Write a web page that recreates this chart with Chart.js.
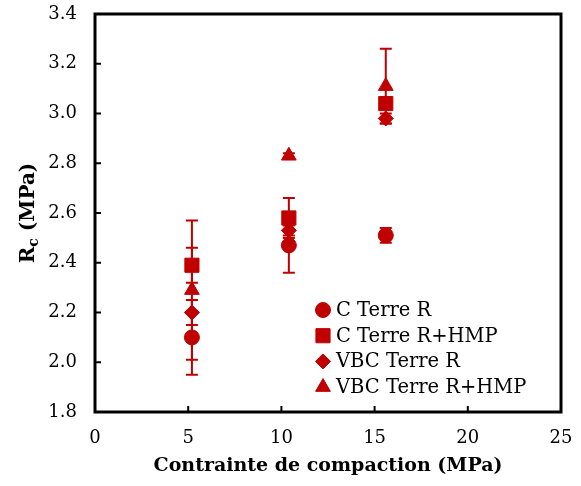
<!DOCTYPE html>
<html>
<head>
<meta charset="utf-8">
<script src="https://cdn.jsdelivr.net/npm/chart.js@4.4.1/dist/chart.umd.min.js"></script>
<style>
  body { margin: 0; background: #fff; }
  #wrap { width: 581px; height: 486px; }
</style>
</head>
<body>
<div id="wrap"><canvas id="rcChart" width="581" height="486"></canvas></div>
<script>
// Compaction pressure (MPa)
const pressures = [5.2, 10.4, 15.6];

// Rc values (MPa) per series
const cTerreR = [2.10, 2.47, 2.51];
const cTerreRHmp = [2.39, 2.58, 3.04];
const vbcTerreR = [2.20, 2.53, 2.98];
const vbcTerreRHmp = [2.29, 2.83, 3.11];

// error bars (+/-)
const cTerreRErr = [0.15, 0.11, 0.03];
const cTerreRHmpErr = [0.07, 0.08, 0.02];
const vbcTerreRErr = [0.05, 0.02, 0.02];
const vbcTerreRHmpErr = [0.28, 0.01, 0.15];

const seriesNames = ['C Terre R', 'C Terre R+HMP', 'VBC Terre R', 'VBC Terre R+HMP'];
const xTicks = [0, 5, 10, 15, 20, 25];
const yTicks = [1.8, 2.0, 2.2, 2.4, 2.6, 2.8, 3.0, 3.2, 3.4];

const RED = '#C00000';
const SERIF = "'DejaVu Serif', serif";

function toPoints(vals, errs) {
    return pressures.map((p, i) => ({ x: p, y: vals[i], err: errs[i] }));
}

const datasets = [
    { label: seriesNames[0], data: toPoints(cTerreR, cTerreRErr), pointStyle: 'circle', pointRadius: 7.5 },
    { label: seriesNames[1], data: toPoints(cTerreRHmp, cTerreRHmpErr), pointStyle: 'rect', pointRadius: 10 },
    { label: seriesNames[2], data: toPoints(vbcTerreR, vbcTerreRErr), pointStyle: 'rectRot', pointRadius: 7.5 },
    { label: seriesNames[3], data: toPoints(vbcTerreRHmp, vbcTerreRHmpErr), pointStyle: 'triangle', pointRadius: 8.5 }
].map(ds => Object.assign(ds, {
    backgroundColor: RED,
    borderColor: RED,
    borderWidth: 1,
    pointHoverRadius: ds.pointRadius
}));

// white background
const bgPlugin = {
    id: 'bg',
    beforeDraw(chart) {
        const ctx = chart.ctx;
        ctx.save();
        ctx.fillStyle = '#fff';
        ctx.fillRect(0, 0, chart.width, chart.height);
        ctx.restore();
    }
};

// error bars behind the markers
const errorBars = {
    id: 'errorBars',
    beforeDatasetsDraw(chart) {
        const ctx = chart.ctx;
        const xs = chart.scales.x, ys = chart.scales.y;
        ctx.save();
        ctx.strokeStyle = RED;
        ctx.lineWidth = 2;
        chart.data.datasets.forEach(ds => {
            ds.data.forEach(pt => {
                const px = xs.getPixelForValue(pt.x);
                const top = ys.getPixelForValue(pt.y + pt.err);
                const bot = ys.getPixelForValue(pt.y - pt.err);
                ctx.beginPath();
                ctx.moveTo(px, top); ctx.lineTo(px, bot);
                ctx.moveTo(px - 6, top); ctx.lineTo(px + 6, top);
                ctx.moveTo(px - 6, bot); ctx.lineTo(px + 6, bot);
                ctx.stroke();
            });
        });
        ctx.restore();
    }
};

// frame, inward ticks, y title with subscript, legend
const decorations = {
    id: 'decorations',
    afterDraw(chart) {
        const ctx = chart.ctx;
        const a = chart.chartArea;
        const xs = chart.scales.x, ys = chart.scales.y;
        ctx.save();
        ctx.strokeStyle = '#000';
        ctx.lineWidth = 2;
        ctx.beginPath();
        xs.ticks.forEach(t => {
            if (t.value <= xs.min || t.value >= xs.max) return;
            const px = xs.getPixelForValue(t.value);
            ctx.moveTo(px, a.bottom); ctx.lineTo(px, a.bottom - 6);
        });
        ys.ticks.forEach(t => {
            if (t.value <= ys.min || t.value >= ys.max) return;
            const py = ys.getPixelForValue(t.value);
            ctx.moveTo(a.left, py); ctx.lineTo(a.left + 6, py);
        });
        ctx.stroke();
        ctx.lineWidth = 3;
        ctx.strokeRect(a.left, a.top, a.right - a.left, a.bottom - a.top);

        // y title: R_c (MPa)
        ctx.fillStyle = '#000';
        ctx.translate(27, (a.top + a.bottom) / 2);
        ctx.rotate(-Math.PI / 2);
        const big = 'bold 20px ' + SERIF, small = 'bold 14px ' + SERIF;
        ctx.font = big; const wR = ctx.measureText('R').width;
        const wRest = ctx.measureText(' (MPa)').width;
        ctx.font = small; const wc = ctx.measureText('c').width;
        let x0 = -(wR + wc + wRest) / 2;
        ctx.textBaseline = 'alphabetic';
        ctx.textAlign = 'left';
        ctx.font = big; ctx.fillText('R', x0, 7);
        ctx.font = small; ctx.fillText('c', x0 + wR, 11);
        ctx.font = big; ctx.fillText(' (MPa)', x0 + wR + wc, 7);
        ctx.setTransform(1, 0, 0, 1, 0, 0);

        // legend
        ctx.font = '19.5px ' + SERIF;
        ctx.textBaseline = 'middle';
        chart.data.datasets.forEach((ds, i) => {
            const ly = 310 + i * 25.7;
            ctx.fillStyle = RED;
            ctx.strokeStyle = RED;
            ctx.lineWidth = 1;
            Chart.helpers.drawPoint(ctx, { pointStyle: ds.pointStyle, radius: ds.pointRadius, rotation: 0, borderWidth: 1 }, 323, ly);
            ctx.fillStyle = '#000';
            ctx.fillText(ds.label, 336, ly + 1);
        });
        ctx.restore();
    }
};

new Chart(document.getElementById('rcChart'), {
    type: 'scatter',
    data: { datasets: datasets },
    options: {
        responsive: false,
        animation: false,
        devicePixelRatio: 1,
        layout: { padding: { left: 0, right: 20, top: 14, bottom: 0 } },
        plugins: {
            legend: { display: false },
            tooltip: { enabled: false }
        },
        scales: {
            x: {
                type: 'linear',
                min: 0, max: 25,
                afterBuildTicks: s => { s.ticks = xTicks.map(v => ({ value: v })); },
                afterFit: s => { s.height = 74; s.paddingLeft = 0; s.paddingRight = 0; },
                grid: { display: false, drawTicks: false },
                border: { display: false },
                ticks: {
                    padding: 16,
                    color: '#000',
                    font: { family: SERIF, size: 18 },
                    maxRotation: 0,
                    callback: v => String(v)
                },
                title: {
                    display: true,
                    text: 'Contrainte de compaction (MPa)',
                    color: '#000',
                    font: { family: SERIF, size: 19, weight: 'bold', lineHeight: 1.2 },
                    padding: { top: 0, bottom: 9 }
                }
            },
            y: {
                type: 'linear',
                min: 1.8, max: 3.4,
                afterBuildTicks: s => { s.ticks = yTicks.map(v => ({ value: v })); },
                afterFit: s => { s.width = 95; s.paddingTop = 0; s.paddingBottom = 0; },
                grid: { display: false, drawTicks: false },
                border: { display: false },
                ticks: {
                    padding: 18,
                    color: '#000',
                    font: { family: SERIF, size: 18 },
                    callback: v => Number(v).toFixed(1)
                }
            }
        }
    },
    plugins: [bgPlugin, errorBars, decorations]
});
</script>
</body>
</html>
